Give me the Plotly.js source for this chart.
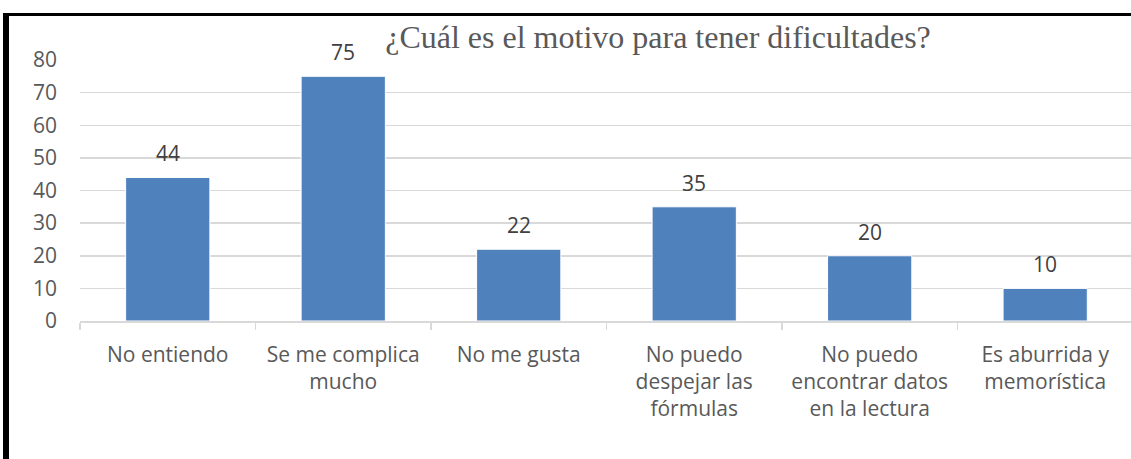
<!DOCTYPE html>
<html>
<head>
<meta charset="utf-8">
<script src="https://cdn.plot.ly/plotly-3.0.1.min.js"></script>
<style>
html,body{margin:0;padding:0;background:#fff;overflow:hidden;}
#chart{width:1131px;height:459px;}
.bl{position:absolute;left:3px;top:13px;width:6px;height:446px;background:#000;}
.bt{position:absolute;left:3px;top:13px;width:1128px;height:3px;background:#000;}
</style>
</head>
<body>
<div id="chart"></div>
<div class="bl"></div>
<div class="bt"></div>
<script>
const categories = ["No entiendo", "Se me complica<br>mucho", "No me gusta", "No puedo<br>despejar las<br>fórmulas", "No puedo<br>encontrar datos<br>en la lectura", "Es aburrida y<br>memorística"];
const values = [44, 75, 22, 35, 20, 10];
const yTicks = [0, 10, 20, 30, 40, 50, 60, 70, 80];
const titleText = "¿Cuál es el motivo para tener dificultades?";

const trace = {
  type: 'bar',
  x: categories,
  y: values,
  width: 0.48,
  marker: {color: '#4F81BD', line: {color: '#ffffff', width: 1}},
  hoverinfo: 'none'
};

const annotations = categories.map((c, i) => ({
  x: c, y: values[i], xref: 'x', yref: 'y',
  text: String(values[i]), showarrow: false,
  yanchor: 'bottom', yshift: 8,
  font: {family: 'Open Sans', size: 21, color: '#404040'}
}));

const layout = {
  width: 1131, height: 459,
  margin: {l: 80, r: 0, t: 60, b: 138, pad: 0},
  paper_bgcolor: '#ffffff', plot_bgcolor: '#ffffff',
  showlegend: false,
  bargap: 0.52,
  title: {
    text: titleText,
    font: {family: 'Liberation Serif', size: 32, color: '#595959'},
    x: 658/1131, xref: 'container', xanchor: 'center',
    y: 1 - 37/459, yref: 'container', yanchor: 'middle'
  },
  xaxis: {
    type: 'category',
    range: [-0.5, 5.489],
    showgrid: false,
    showline: true, linecolor: '#D9D9D9', linewidth: 1.5,
    ticks: 'outside', tickson: 'boundaries', ticklen: 7, tickcolor: '#D9D9D9', tickwidth: 1.5,
    ticklabelstandoff: 14,
    tickfont: {family: 'Open Sans', size: 21, color: '#595959'},
    fixedrange: true
  },
  yaxis: {
    range: [0, 80],
    tickvals: yTicks,
    ticktext: yTicks.map(String),
    showgrid: true, gridcolor: '#D9D9D9', gridwidth: 1.5,
    zeroline: false, showline: false, ticks: '',
    ticklabelstandoff: 22,
    tickfont: {family: 'Open Sans', size: 21, color: '#595959'},
    fixedrange: true
  },
  annotations: annotations
};

Plotly.newPlot('chart', [trace], layout, {displayModeBar: false, staticPlot: true});
</script>
</body>
</html>
